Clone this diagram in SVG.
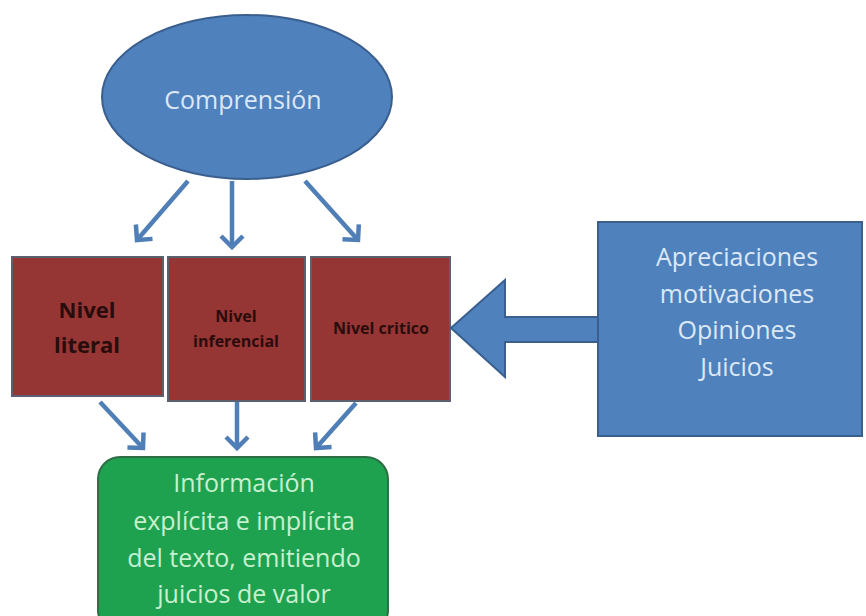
<svg xmlns="http://www.w3.org/2000/svg" width="866" height="616" viewBox="0 0 866 616">
  <style>
    .lbl { font-family: "Open Sans", "Liberation Sans", sans-serif; text-anchor: middle; }
    .light { fill: #dce8f6; font-size: 25px; }
    .green { fill: #c8f0d0; font-size: 25px; }
    .dark { fill: #2a0c0c; font-weight: bold; }
    .conn { stroke: #4f7fb6; stroke-width: 4.5; fill: none; marker-end: url(#open); }
  </style>
  <defs>
    <marker id="open" markerUnits="userSpaceOnUse" markerWidth="30" markerHeight="30" refX="15" refY="15" orient="auto" viewBox="0 0 30 30">
      <path d="M4,4 L15,15 L4,26" fill="none" stroke="#4f7fb6" stroke-width="4.5" stroke-linejoin="miter"/>
    </marker>
  </defs>
  <rect width="866" height="616" fill="#ffffff"/>

  <g id="comprension">
    <ellipse cx="247" cy="97" rx="145" ry="82" fill="#4f81bd" stroke="#3a5f8f" stroke-width="2"/>
    <text class="lbl light" x="243" y="109">Comprensión</text>
  </g>

  <g id="nivel-literal">
    <rect x="12" y="257" width="151" height="139" fill="#953634" stroke="#5c5f6e" stroke-width="2"/>
    <text class="lbl dark" x="87" y="318" font-size="22">Nivel</text>
    <text class="lbl dark" x="87" y="353" font-size="22">literal</text>
  </g>

  <g id="nivel-inferencial">
    <rect x="168" y="257" width="137" height="144" fill="#953634" stroke="#5c5f6e" stroke-width="2"/>
    <text class="lbl dark" x="236" y="322" font-size="16">Nivel</text>
    <text class="lbl dark" x="236" y="347" font-size="16">inferencial</text>
  </g>

  <g id="nivel-critico">
    <rect x="311" y="257" width="139" height="144" fill="#953634" stroke="#5c5f6e" stroke-width="2"/>
    <text class="lbl dark" x="381" y="334" font-size="16">Nivel critico</text>
  </g>

  <g id="apreciaciones">
    <rect x="598" y="222" width="264" height="214" fill="#4f81bd" stroke="#3a5f8f" stroke-width="2"/>
    <text class="lbl light" x="737" y="266" font-size="26">Apreciaciones</text>
    <text class="lbl light" x="737" y="303" font-size="26">motivaciones</text>
    <text class="lbl light" x="737" y="339" font-size="26">Opiniones</text>
    <text class="lbl light" x="737" y="376" font-size="26">Juicios</text>
  </g>

  <g id="informacion">
    <rect x="98" y="457" width="290" height="175" rx="22" ry="22" fill="#1fa24f" stroke="#2d6e45" stroke-width="2"/>
    <text class="lbl green" x="244" y="492">Información</text>
    <text class="lbl green" x="244" y="530">explícita e implícita</text>
    <text class="lbl green" x="244" y="567">del texto, emitiendo</text>
    <text class="lbl green" x="244" y="603">juicios de valor</text>
  </g>

  <g id="connectors">
    <path class="conn" d="M188,181 L137,240"/>
    <path class="conn" d="M232,181 L232,247"/>
    <path class="conn" d="M305,181 L358,240"/>
    <path class="conn" d="M100,402 L143,448"/>
    <path class="conn" d="M237,402 L237,448"/>
    <path class="conn" d="M356,403 L316,448"/>
    <path d="M598,317 L505,317 L505,280 L451,328 L505,377 L505,342 L598,342 Z" fill="#4f81bd" stroke="#3a5f8f" stroke-width="2" stroke-linejoin="miter"/>
  </g>
</svg>
